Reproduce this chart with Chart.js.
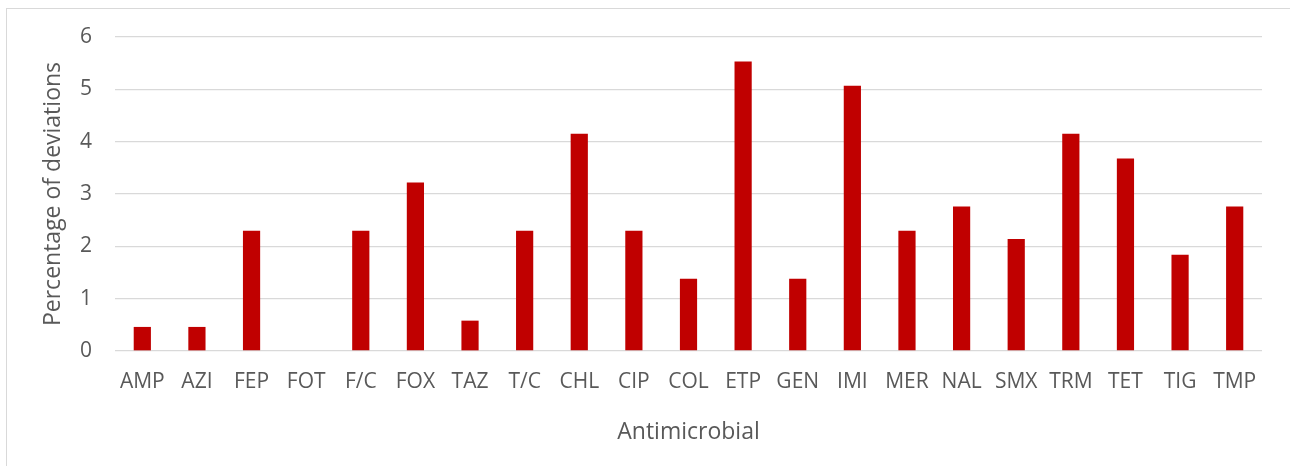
<!DOCTYPE html>
<html lang="en">
<head>
  <meta charset="UTF-8" />
  <title>Percentage of deviations by antimicrobial</title>
  <script src="https://cdn.jsdelivr.net/npm/chart.js"></script>
  <style>
    * { margin: 0; padding: 0; box-sizing: border-box; }

    body {
      background: #ffffff;
      width: 1290px;
      height: 466px;
      overflow: hidden;
      position: relative;
    }

    .frame {
      position: absolute;
      left: 6px;
      top: 8px;
      width: 1300px;
      height: 480px;
      border: 1px solid #d9d9d9;
    }

    .chart-box {
      position: absolute;
      left: 0;
      top: 0;
      width: 1290px;
      height: 466px;
    }
  </style>
</head>
<body>
  <div class="frame"></div>
  <div class="chart-box">
    <canvas id="devChart" width="1290" height="466"></canvas>
  </div>

  <script>
    const antimicrobials = ["AMP", "AZI", "FEP", "FOT", "F/C", "FOX", "TAZ", "T/C", "CHL", "CIP", "COL",
                            "ETP", "GEN", "IMI", "MER", "NAL", "SMX", "TRM", "TET", "TIG", "TMP"];
    const deviations = [0.46, 0.46, 2.3, 0, 2.3, 3.22, 0.58, 2.3, 4.15, 2.3, 1.38,
                        5.53, 1.38, 5.07, 2.3, 2.76, 2.14, 4.15, 3.68, 1.84, 2.76];
    const yTicks = [0, 1, 2, 3, 4, 5, 6];

    const textGray = "#595959";
    const gridGray = "#d9d9d9";
    const font = "'Open Sans', sans-serif";

    new Chart(document.getElementById("devChart"), {
      type: "bar",
      data: {
        labels: antimicrobials,
        datasets: [{
          label: "Percentage of deviations",
          data: deviations,
          backgroundColor: "#c00000",
          borderWidth: 0,
          barPercentage: 1,
          categoryPercentage: 0.315
        }]
      },
      options: {
        responsive: false,
        animation: false,
        layout: { padding: { top: 37, right: 28, bottom: 0, left: 0 } },
        plugins: {
          legend: { display: false },
          tooltip: { enabled: false }
        },
        scales: {
          x: {
            grid: { display: false },
            border: { display: false },
            ticks: {
              color: textGray,
              font: { family: font, size: 21 },
              padding: 10,
              maxRotation: 0,
              autoSkip: false
            },
            title: {
              display: true,
              text: "Antimicrobial",
              color: textGray,
              font: { family: font, size: 23 },
              padding: { top: 0, bottom: 20 }
            },
            afterFit: s => { s.height = 466 - 351; }
          },
          y: {
            min: 0,
            max: 6,
            afterBuildTicks: s => { s.ticks = yTicks.map(v => ({ value: v })); },
            grid: { color: gridGray, lineWidth: 1.3, drawTicks: false },
            border: { display: false },
            ticks: {
              color: textGray,
              font: { family: font, size: 21 },
              padding: 23
            },
            title: {
              display: true,
              text: "Percentage of deviations",
              color: textGray,
              font: { family: font, size: 23 },
              padding: { top: 40, bottom: 0 }
            },
            afterFit: s => { s.width = 115; }
          }
        }
      }
    });
  </script>
</body>
</html>
